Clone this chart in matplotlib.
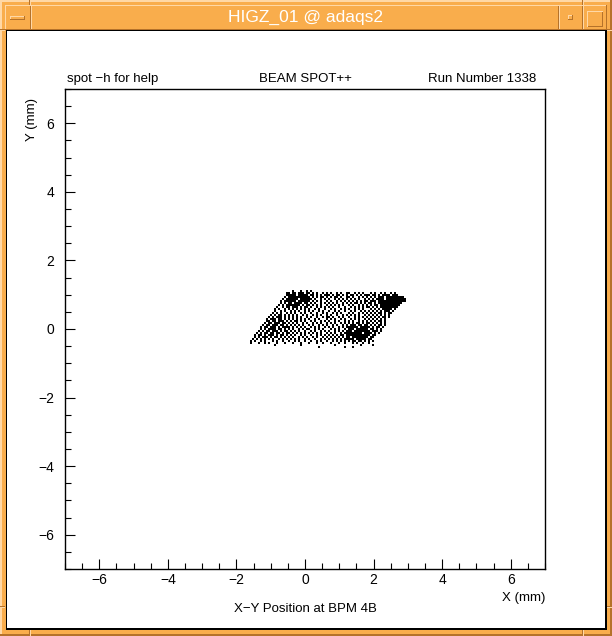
import numpy as np
import matplotlib
matplotlib.use("Agg")
import matplotlib.pyplot as plt
from matplotlib.patches import Rectangle
from matplotlib.ticker import MultipleLocator

plt.rcParams['font.family'] = ['Liberation Sans', 'DejaVu Sans']

# beam spot hits, one char per 0.0584 mm cell ('#' = hit)
cell_mm = 0.0584
x_first = -1.633
y_first = 1.109
hits = [
    "..........|..........|..#...#..#|.#........|..........|..........|..........|..........",
    "..........|.........#|#.##.###.#|#.#.#..#.#|.#..#.#..#|#..#.#.#..|.#.#..#.#.|.#.#......",
    "..........|.........#|####.#####|.##.#.#.##|#.#.##.#.#|.##.#.#.##|#.##.#.###|#.###.....",
    "..........|........#.|##########|#.#.#.##.#|.#.##.#..#|#.#..#.#.#|.#.#.###.#|########..",
    "..........|.......#.#|#####.####|##.#..#.#.|#..#.#.#.#|.#.#.#..#.|#.#.####.#|#########.",
    "..........|......#.##|####.#####|#.#.#.#..#|.#..#.#.#.|#.#.#.#.##|.###.#####|#########.",
    "..........|......#.#.|##.####.##|.#.#..#.#.|#.#.#..#.#|.#.##.#.#.|##.#.#####|#######...",
    "..........|.....#.#.#|######.#.#|#.#.#.#..#|.#.#.#.#..|#.#..#.#.#|.#.##.####|######....",
    "..........|....#..#.#|#.###.#.##|.#..#.#.#.|#.#..#..#.|.#.#.#.#.#|#.#.#.####|#####.....",
    "..........|...#.#..#.|#.#.#.#.#.|#..#.#..#.|.#.#..#.#.|#..#.#.#..|.#.#.#.###|##.#......",
    "..........|...#..#.#.|.#.#.#..#.|#.#..#.#..|#..#.#..#.|.#.#..#.#.|#.#.#.#.##|#.#.......",
    "..........|..#.#.#..#|.#.#..#.#.|.#..#..#.#|..#.#.#...|#.#..#.#.#|.#.#.##.#.|##........",
    "..........|.#.#.##.#.|#.#.#..#.#|..#.#.#..#|.#..#..#.#|.#.#.#..#.|#.#.#.#.#.|#.........",
    "..........|#.#.###.#.|#.#.#.#..#|.#..#..#.#|#.#..#.#..|#..#.#.#.#|.#.#.#.##.|#.........",
    ".........#|.###.##.#.|#.#.#.#.#.|#..#.#...#|.#.#..#.#.|.#.#.#..#.|#.#.#.#.#.|..........",
    ".........#|#.##.###.#|.#.##.#.#.|.#.#..#.#.|#..#.#..#.|#.#..#.#.#|.#.#.##.#.|..........",
    "........#.|##.###.##.|#.#.#..#.#|..#.#.#..#|.#.#..#.#.|#.#.##.#.#|#.#.#.#.#.|..........",
    ".......#.#|#.###.##.#|.#.#.#.#..|#.#..#.#.#|..#.#..#.#|.###.##.##|.#.#.##.#.|..........",
    "......#.##|.###.#.###|#.#.#.#.#.|.#.#.#..#.|#.#..#.#.#|#####.####|#.#.##.#..|..........",
    "......#.#.|####.##.#.|#.#..#.#.#|#..#.#.#..|.#.#.#..#.|###.######|.##.#.#...|..........",
    ".....#.#.#|#.###.#.##|.#.#.#..#.|.#.#..#.#.|#..#.#.#.#|##.#######|#.###.#...|..........",
    "....#.#.##|.##.##.#.#|#.#.#.#.#.|#.#.#.#..#|.#.#..#.##|#######.##|##.#.#....|..........",
    "...#.##.#.|###.#.##.#|.#.#..#.#.|.#..#.#.#.|#.#.#.##.#|##########|#.##......|..........",
    "...#.#.###|.#.##.#.#.|#.#..#.#.#|..#.#..#.#|.#.#.#.#.#|#.########|.##.......|..........",
    "..#.#.#.#.|#.#..#.#.#|.#.#.#..#.|#..#..#.#.|#.#.#.#.##|###.#####.|##........|..........",
    ".#.#..#.#.|..#.#..#..|#..#.#..#.|.#..#.#..#|..#.#.#.#.|#.##.##.#.|#.#.......|..........",
    ".#...#..#.|#...#...#.|..#...#...|#...#..#..|.#...#..#.|..#.#..#..|#.........|..........",
    "..........|...#......|......#...|..........|...#......|......#...|..#.......|..........",
    "..........|..........|..........|.....#....|........#.|..#.......|..........|..........",
]

xs, ys = [], []
for r, row in enumerate(hits):
    for c, ch in enumerate(row.replace("|", "")):
        if ch == "#":
            xs.append(x_first + c * cell_mm)
            ys.append(y_first - r * cell_mm)

x_ticks = [-6, -4, -2, 0, 2, 4, 6]
y_ticks = [-6, -4, -2, 0, 2, 4, 6]

W, H = 612, 636
ORANGE = "#f9ad4c"
LIGHT = "#ffd8a6"
DARK = "#b5722a"

fig = plt.figure(figsize=(W / 100, H / 100), dpi=100)
fig.patch.set_facecolor(ORANGE)


def box(x, y, w, h, color, z=-2):
    fig.add_artist(Rectangle((x / W, 1 - (y + h) / H), w / W, h / H,
                             transform=fig.transFigure, facecolor=color,
                             edgecolor="none", zorder=z))


# window frame
box(0, 0, W, 2, LIGHT)
box(0, 0, 2, H, LIGHT)
box(0, H - 2, W, 2, DARK)
box(W - 2, 0, 2, H, DARK)
for xm in (29, 582):
    box(xm, 0, 1, 5, DARK)
    box(xm + 1, 0, 1, 5, LIGHT)
    box(xm, H - 6, 1, 6, DARK)
    box(xm + 1, H - 6, 1, 6, LIGHT)
for ym in (29, 606):
    box(0, ym, 5, 1, DARK)
    box(0, ym + 1, 5, 1, LIGHT)
    box(W - 6, ym, 6, 1, DARK)
    box(W - 6, ym + 1, 6, 1, LIGHT)

# title bar
box(5, 5, 602, 25, DARK)
box(5, 5, 601, 24, LIGHT)
box(6, 6, 600, 23, ORANGE)
for xs_ in (30, 558, 582):
    box(xs_, 6, 1, 23, DARK)
    box(xs_ + 1, 6, 1, 23, LIGHT)
box(10, 16, 15, 4, DARK)
box(10, 16, 14, 3, LIGHT)
box(11, 17, 13, 2, ORANGE)
box(568, 15, 5, 5, DARK)
box(568, 15, 4, 4, LIGHT)
box(569, 16, 3, 3, ORANGE)
box(587, 11, 16, 16, LIGHT)
box(588, 12, 15, 15, DARK)
box(588, 12, 14, 14, ORANGE)
fig.text(306 / W, 1 - 17 / H, "HIGZ_01 @ adaqs2", color="white",
         fontsize=12.5, ha="center", va="center")

# drawing area
box(6, 30, 601, 600, "black")
box(7, 31, 598, 597, "white")

ax = fig.add_axes([65 / W, 1 - 569 / H, 480 / W, 480 / H])
ax.set_facecolor("none")
ax.scatter(xs, ys, s=1.0, marker="s", c="black", linewidths=0)

ax.set_xlim(-7, 7)
ax.set_ylim(-7, 7)
ax.set_xticks(x_ticks)
ax.set_yticks(y_ticks)
ax.xaxis.set_minor_locator(MultipleLocator(0.5))
ax.yaxis.set_minor_locator(MultipleLocator(0.5))
ax.tick_params(which="both", direction="in", top=False, right=False,
               width=0.8, labelsize=10)
ax.tick_params(axis="x", which="major", length=7, pad=3)
ax.tick_params(axis="y", which="major", length=7, pad=8)
ax.tick_params(which="minor", length=4)
for s in ax.spines.values():
    s.set_linewidth(1.0)

ax.text(0.004, 1.008, "spot \u2212h for help", transform=ax.transAxes,
        fontsize=9.5, ha="left", va="bottom")
ax.text(0.5, 1.008, "BEAM SPOT++", transform=ax.transAxes,
        fontsize=9.5, ha="center", va="bottom")
ax.text(0.981, 1.008, "Run Number 1338", transform=ax.transAxes,
        fontsize=9.5, ha="right", va="bottom")
ax.text(1.0, -0.06, "X (mm)", transform=ax.transAxes,
        fontsize=9.5, ha="right", va="center")
ax.text(0.5, -0.083, "X\u2212Y Position at BPM 4B", transform=ax.transAxes,
        fontsize=9.5, ha="center", va="center")
ax.text(-0.069, 0.981, "Y (mm)", transform=ax.transAxes, rotation=90,
        fontsize=9.5, ha="center", va="top")

fig.savefig("out.png", dpi=100, facecolor=fig.get_facecolor())
